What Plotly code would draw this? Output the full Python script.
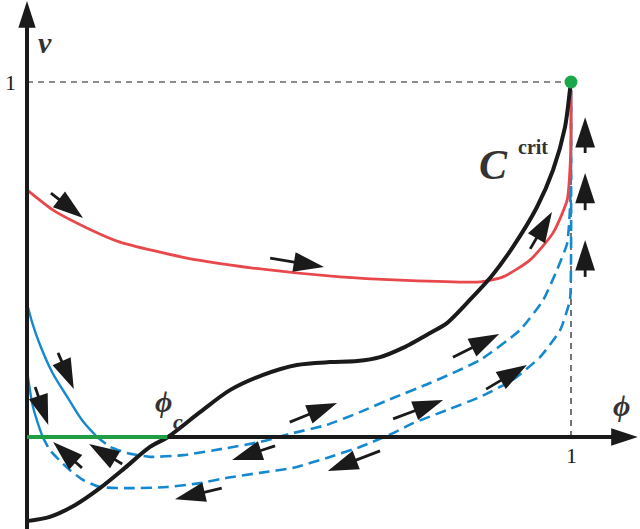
import plotly.graph_objects as go

# ---- data (phi, v) ----
crit_phi = [0, 0.042, 0.088, 0.134, 0.180, 0.226, 0.259, 0.318, 0.373, 0.434, 0.496, 0.557, 0.607,
            0.649, 0.691, 0.741, 0.772, 0.814, 0.855, 0.893, 0.9375, 0.967, 0.989, 0.998, 1.0]
crit_v = [-0.237, -0.225, -0.192, -0.144, -0.087, -0.028, 0.0, 0.070, 0.132, 0.175, 0.203, 0.211, 0.214,
          0.225, 0.251, 0.293, 0.321, 0.386, 0.455, 0.535, 0.648, 0.752, 0.873, 0.977, 1.0]

red_phi = [0, 0.048, 0.110, 0.171, 0.294, 0.415, 0.575, 0.686, 0.833, 0.875, 0.925, 0.967, 0.993, 0.998, 1.0, 1.0]
red_v = [0.696, 0.639, 0.589, 0.549, 0.504, 0.476, 0.451, 0.442, 0.437, 0.451, 0.499, 0.575, 0.668, 0.752, 0.837, 0.977]

blue1_solid_phi = [0, 0.011, 0.024, 0.046, 0.074, 0.101, 0.129]
blue1_solid_v = [0.377, 0.315, 0.259, 0.183, 0.113, 0.048, 0.0]
blue1_dash_phi = [0.129, 0.153, 0.184, 0.226, 0.287, 0.368, 0.428, 0.489, 0.551, 0.612, 0.673, 0.741,
                  0.833, 0.906, 0.949, 0.974, 0.993, 0.998, 1.0, 1.0]
blue1_dash_v = [0.0, -0.028, -0.045, -0.056, -0.051, -0.031, -0.014, 0.011, 0.034, 0.070, 0.110, 0.152,
                0.217, 0.301, 0.386, 0.470, 0.546, 0.639, 0.752, 0.977]

blue2_solid_phi = [0, 0.004, 0.011, 0.024, 0.029]
blue2_solid_v = [0.189, 0.146, 0.085, 0.020, 0.0]
blue2_dash_phi = [0.029, 0.042, 0.074, 0.103, 0.134, 0.195, 0.257, 0.318, 0.368, 0.428, 0.489, 0.551,
                  0.612, 0.673, 0.710, 0.772, 0.833, 0.893, 0.943, 0.980, 0.998, 1.0, 1.0]
blue2_dash_v = [0.0, -0.037, -0.087, -0.121, -0.141, -0.144, -0.141, -0.130, -0.115, -0.101, -0.087, -0.059,
                -0.028, 0.011, 0.039, 0.076, 0.113, 0.161, 0.225, 0.301, 0.386, 0.499, 0.977]

green_phi = [0, 0.258]
green_v = [0, 0]

fixed_point = (1.0, 1.0)

# flow arrows: (tail_phi, tail_v, head_phi, head_v)
arrows = [
    (0.044, 0.687, 0.103, 0.617),
    (0.447, 0.504, 0.546, 0.479),
    (0.925, 0.530, 0.965, 0.634),
    (1.026, 0.800, 1.026, 0.901),
    (1.026, 0.639, 1.026, 0.744),
    (1.026, 0.451, 1.026, 0.555),
    (0.057, 0.237, 0.086, 0.135),
    (0.015, 0.141, 0.039, 0.034),
    (0.101, -0.087, 0.048, -0.014),
    (0.175, -0.076, 0.114, -0.020),
    (0.483, 0.042, 0.570, 0.096),
    (0.456, -0.025, 0.377, -0.065),
    (0.649, -0.039, 0.553, -0.096),
    (0.358, -0.144, 0.272, -0.175),
    (0.783, 0.225, 0.868, 0.290),
    (0.844, 0.135, 0.919, 0.203),
    (0.673, 0.051, 0.765, 0.104),
]

RED = "#e8474c"
BLUE = "#1589d0"
GREEN = "#1f9e45"
BLACK = "#1a1a1a"
TXT = "#333333"
SERIF = "Liberation Serif, Times New Roman, serif"

XMIN, XMAX = -27 / 544, 613 / 544
YMIN, YMAX = (437 - 529) / 355, 437 / 355

fig = go.Figure()

# reference dashed lines
fig.add_shape(type="line", x0=0, y0=1, x1=1, y1=1, line=dict(color=BLACK, width=1.2, dash="6px,5px"), layer="below")
fig.add_shape(type="line", x0=1, y0=0, x1=1, y1=1, line=dict(color=BLACK, width=1.2, dash="6px,5px"), layer="below")

fig.add_trace(go.Scatter(x=blue1_dash_phi, y=blue1_dash_v, mode="lines",
                         line=dict(color=BLUE, width=2.6, dash="11px,6px", shape="spline", smoothing=0.5),
                         hoverinfo="skip"))
fig.add_trace(go.Scatter(x=blue2_dash_phi, y=blue2_dash_v, mode="lines",
                         line=dict(color=BLUE, width=2.6, dash="11px,6px", shape="spline", smoothing=0.5),
                         hoverinfo="skip"))
fig.add_trace(go.Scatter(x=blue1_solid_phi, y=blue1_solid_v, mode="lines",
                         line=dict(color=BLUE, width=2.4, shape="spline"), hoverinfo="skip"))
fig.add_trace(go.Scatter(x=blue2_solid_phi, y=blue2_solid_v, mode="lines",
                         line=dict(color=BLUE, width=2.4, shape="spline"), hoverinfo="skip"))
fig.add_trace(go.Scatter(x=red_phi, y=red_v, mode="lines",
                         line=dict(color=RED, width=2.8, shape="spline", smoothing=0.6), hoverinfo="skip"))
fig.add_trace(go.Scatter(x=crit_phi, y=crit_v, mode="lines",
                         line=dict(color=BLACK, width=4, shape="spline", smoothing=0.8), hoverinfo="skip"))

# axes (line + arrow marker at the tip)
ax_x = [0, 0, None, 0, XMAX - 0.004]
ax_y = [YMIN, YMAX - 0.003, None, 0, 0]
fig.add_trace(go.Scatter(x=ax_x, y=ax_y, mode="lines+markers",
                         line=dict(color=BLACK, width=4),
                         marker=dict(symbol="arrow", size=[0, 28, 0, 0, 28], angleref="previous",
                                     color=BLACK, opacity=1, line=dict(width=0)),
                         hoverinfo="skip"))

fig.add_trace(go.Scatter(x=green_phi, y=green_v, mode="lines",
                         line=dict(color=GREEN, width=4), hoverinfo="skip"))
fig.add_trace(go.Scatter(x=[fixed_point[0]], y=[fixed_point[1]], mode="markers",
                         marker=dict(color="#1aa64a", size=13, opacity=1), hoverinfo="skip"))

# flow arrows
arr_x, arr_y, arr_s = [], [], []
for tx, ty, hx, hy in arrows:
    arr_x += [tx, hx, None]
    arr_y += [ty, hy, None]
    arr_s += [0, 32, 0]
fig.add_trace(go.Scatter(x=arr_x, y=arr_y, mode="lines+markers",
                         line=dict(color=BLACK, width=2.8),
                         marker=dict(symbol="arrow", size=arr_s, angleref="previous",
                                     color=BLACK, opacity=1, line=dict(width=0)),
                         hoverinfo="skip"))

# text
fig.add_annotation(x=0.033, y=1.11, text="<b><i>v</i></b>", showarrow=False,
                   font=dict(family=SERIF, size=30, color=TXT))
fig.add_annotation(x=-0.03, y=1.0, text="1", showarrow=False,
                   font=dict(family=SERIF, size=22, color=BLACK))
fig.add_annotation(x=1.0, y=-0.052, text="1", showarrow=False,
                   font=dict(family=SERIF, size=22, color=BLACK))
fig.add_annotation(x=1.092, y=0.09, text="<b><i>ϕ</i></b>", showarrow=False,
                   font=dict(family=SERIF, size=30, color=TXT))
fig.add_annotation(x=0.857, y=0.766, text="<b><i>C</i></b>", showarrow=False,
                   font=dict(family=SERIF, size=42, color=TXT))
fig.add_annotation(x=0.898, y=0.818, text="<b>crit</b>", showarrow=False, xanchor="left",
                   font=dict(family=SERIF, size=20, color=TXT))
fig.add_annotation(x=0.25, y=0.10, text="<b><i>ϕ</i></b>", showarrow=False,
                   font=dict(family=SERIF, size=30, color=TXT))
fig.add_annotation(x=0.265, y=0.045, text="<b><i>c</i></b>", showarrow=False, xanchor="left",
                   font=dict(family=SERIF, size=22, color=TXT))

fig.update_layout(
    width=640, height=529, margin=dict(l=0, r=0, t=0, b=0, pad=0, autoexpand=False),
    paper_bgcolor="white", plot_bgcolor="white", showlegend=False,
    xaxis=dict(range=[XMIN, XMAX], visible=False, fixedrange=True),
    yaxis=dict(range=[YMIN, YMAX], visible=False, fixedrange=True),
)

fig.write_html("out.html", config={"displayModeBar": False},
               post_script="document.body.style.margin='0';document.body.style.overflow='hidden';")
